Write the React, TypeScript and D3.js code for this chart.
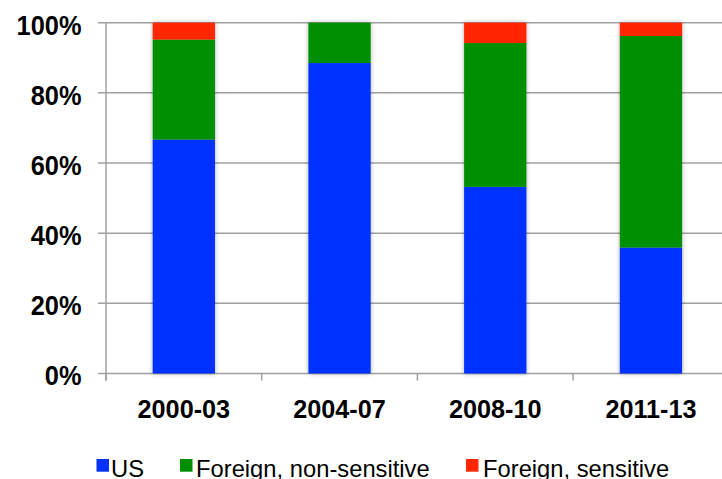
import React from "react";
import * as d3 from "d3";

const categories = ["2000-03", "2004-07", "2008-10", "2011-13"];
const usValues = [66.7, 88.5, 53.2, 35.9];
const foreignNonSensitive = [28.5, 11.5, 41.0, 60.3];
const foreignSensitive = [4.8, 0, 5.8, 3.8];
const seriesNames = ["US", "Foreign, non-sensitive", "Foreign, sensitive"];
const seriesColors = ["#0433FF", "#008F00", "#FF2600"];
const yTicks = [0, 20, 40, 60, 80, 100];

const W = 722;
const H = 479;

export default function App() {
  const x = d3.scaleBand<string>().domain(categories).range([106, 106 + 4 * 155.7]).padding(0);
  const y = d3.scaleLinear().domain([0, 100]).range([373.5, 22.7]);
  const barW = x.step() * 0.4;

  const rows = categories.map((c, i) => ({
    cat: c,
    US: usValues[i],
    "Foreign, non-sensitive": foreignNonSensitive[i],
    "Foreign, sensitive": foreignSensitive[i],
  }));
  const stack = d3.stack<any>().keys(seriesNames)(rows);

  const font = "'Liberation Sans', Arial, sans-serif";

  return (
    <svg width={W} height={H} style={{ position: "absolute", left: 0, top: 0, background: "#fff" }}>
      <defs>
        <filter id="sh" x="-20%" y="-5%" width="140%" height="110%">
          <feDropShadow dx="0" dy="0" stdDeviation="2" floodColor="#000" floodOpacity="0.35" />
        </filter>
      </defs>
      {yTicks.map((t) => (
        <line key={t} x1={98} x2={W} y1={y(t)} y2={y(t)} stroke="#a0a0a0" strokeWidth={1.5} />
      ))}
      <line x1={106} x2={106} y1={y(100)} y2={y(0) + 7} stroke="#a0a0a0" strokeWidth={1.5} />
      {categories.map((c) => (
        <line key={c} x1={x(c)!} x2={x(c)!} y1={y(0)} y2={y(0) + 7} stroke="#a0a0a0" strokeWidth={1.5} />
      ))}
      <g filter="url(#sh)">
        {stack.map((s, si) =>
          s.map((d, i) =>
            d[1] - d[0] > 0 ? (
              <rect
                key={si + "-" + i}
                x={x(categories[i])! + (x.step() - barW) / 2}
                y={y(d[1])}
                width={barW}
                height={y(d[0]) - y(d[1])}
                fill={seriesColors[si]}
              />
            ) : null
          )
        )}
      </g>
      {yTicks.map((t) => (
        <g key={t} transform={`translate(81.5,${y(t)}) scale(0.94,1)`}>
          <text x={0} y={0} dy="0.44em" textAnchor="end" fontFamily={font} fontWeight="bold" fontSize={27} fill="#000">
            {t + "%"}
          </text>
        </g>
      ))}
      {categories.map((c) => (
        <g key={c} transform={`translate(${x(c)! + x.step() / 2},417.7) scale(0.97,1)`}>
          <text x={0} y={0} textAnchor="middle" fontFamily={font} fontWeight="bold" fontSize={26} fill="#000">
            {c}
          </text>
        </g>
      ))}
      {[
        { sx: 96.5, tx: 111 },
        { sx: 180, tx: 196 },
        { sx: 466, tx: 483 },
      ].map((p, i) => (
        <g key={i}>
          <rect x={p.sx} y={459} width={12.5} height={12.7} fill={seriesColors[i]} />
          <g transform={`translate(${p.tx},476.5) scale(0.97,1)`}>
            <text x={0} y={0} fontFamily={font} fontSize={24.5} fill="#000">
              {seriesNames[i]}
            </text>
          </g>
        </g>
      ))}
    </svg>
  );
}
